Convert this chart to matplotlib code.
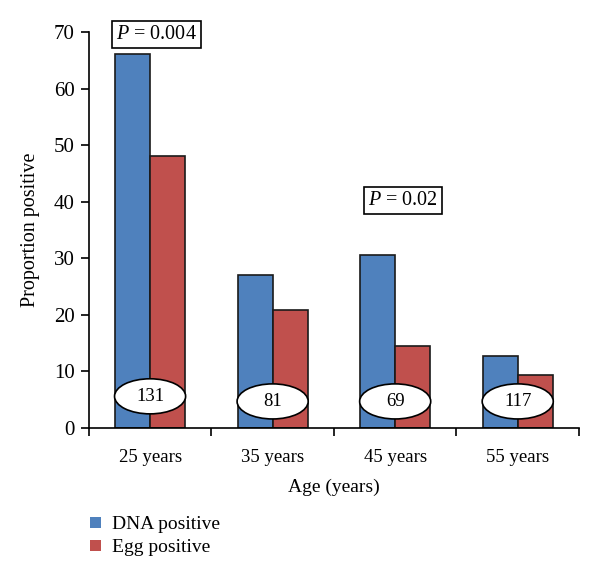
import numpy as np
import matplotlib
matplotlib.use("Agg")
import matplotlib.pyplot as plt
from matplotlib.patches import Ellipse

plt.rcParams['font.family'] = ['Liberation Serif', 'DejaVu Serif']
plt.rcParams['mathtext.fontset'] = 'custom'
plt.rcParams['mathtext.it'] = 'Liberation Serif:italic'
plt.rcParams['mathtext.rm'] = 'Liberation Serif'

# data
categories = ['25 years', '35 years', '45 years', '55 years']
dna_positive = [66.2, 27.0, 30.5, 12.8]
egg_positive = [48.1, 20.8, 14.5, 9.3]
sample_sizes = ['131', '81', '69', '117']
oval_y = [5.6, 4.7, 4.7, 4.7]
p_labels = ['$P$ = 0.004', '$P$ = 0.02']
p_positions = [(0.05, 69.6), (2.06, 40.3)]

blue = '#4F81BD'
red = '#C0504D'

fig = plt.figure(figsize=(6.0, 5.78), dpi=100)
ax = fig.add_axes([0.148, 0.2595, 0.817, 0.685])

x = np.arange(len(categories))
w = 0.285
ax.bar(x - w / 2, dna_positive, w, color=blue, edgecolor='#1a1a1a', linewidth=1.2,
       label='DNA positive', zorder=2)
ax.bar(x + w / 2, egg_positive, w, color=red, edgecolor='#1a1a1a', linewidth=1.2,
       label='Egg positive', zorder=2)

# sample size ovals
for i, n in enumerate(sample_sizes):
    e = Ellipse((x[i], oval_y[i]), 0.58, 6.2, facecolor='white', edgecolor='black',
                linewidth=1.2, zorder=3)
    ax.add_patch(e)
    ax.text(x[i], oval_y[i], n, ha='center', va='center', fontsize=13.5, zorder=4)

for lab, (px, py) in zip(p_labels, p_positions):
    ax.text(px, py, lab, ha='center', va='center', fontsize=14.5, zorder=4,
            bbox=dict(boxstyle='square,pad=0.2', facecolor='white', edgecolor='black', linewidth=1.2))

ax.set_xlim(-0.5, 3.5)
ax.set_ylim(0, 70)
ax.set_yticks(range(0, 71, 10))
ax.set_xticks(x)
ax.set_xticklabels(categories, fontsize=13.5)
ax.set_xticks(np.arange(-0.5, 3.6, 1), minor=True)
ax.tick_params(axis='x', which='major', length=0, pad=15)
ax.tick_params(axis='x', which='minor', length=6, width=1.2, direction='out')
ax.tick_params(axis='y', length=6, width=1.2, direction='out', labelsize=15, pad=4)

for s in ['top', 'right']:
    ax.spines[s].set_visible(False)
for s in ['left', 'bottom']:
    ax.spines[s].set_linewidth(1.2)

ax.set_ylabel('Proportion positive', fontsize=14.5, labelpad=10)
ax.set_xlabel('Age (years)', fontsize=14, labelpad=9)

fig.legend(loc='upper left', bbox_to_anchor=(0.128, 0.13), frameon=False, fontsize=14,
           handlelength=0.55, handleheight=0.55, handletextpad=0.55, labelspacing=0.3,
           borderpad=0.2)
for h in fig.legends[0].legend_handles:
    h.set_edgecolor('none')

fig.savefig('out.png', dpi=100)
